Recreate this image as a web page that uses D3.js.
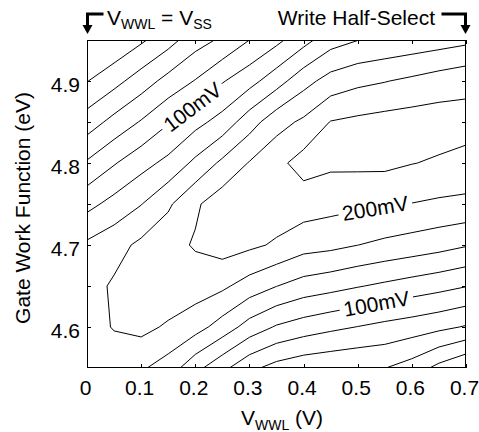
<!DOCTYPE html>
<html>
<head>
<meta charset="utf-8">
<script src="https://cdn.jsdelivr.net/npm/d3@7"></script>
<style>
  body { margin: 0; background: #fff; }
  text { font-family: "Liberation Sans", Arial, sans-serif; fill: #000; }
</style>
</head>
<body>
<svg id="chart"></svg>
<script>
// grid of the contour data
const vwwl = [0, 0.05, 0.1, 0.15, 0.2, 0.25, 0.3, 0.35, 0.4, 0.45, 0.5, 0.55, 0.6, 0.65, 0.7];
const workFunction = [4.95, 4.90, 4.85, 4.80, 4.75, 4.70, 4.65, 4.60, 4.55]; // top row first

// read margin (mV), one row per work function value
const row495 = [-37.5, -21.5, -4, 15.4, 39.6, 54.3, 75, 93.6, 116.4, 139.5, 149.5, 154.7, 159, 163.6, 169];
const row490 = [-0.9, 16.8, 37.3, 58.5, 76.3, 98, 116, 139.5, 166, 185, 194, 198.9, 205, 212, 218];
const row485 = [37, 58, 77, 98, 117, 134.5, 164, 190.5, 204.6, 226, 230.6, 234.2, 236.5, 237, 234];
const row480 = [78, 98, 116, 131.7, 155.6, 180.3, 201.5, 218, 235, 229.8, 230.5, 231, 225.8, 222, 218];
const row475 = [117.3, 133.3, 149.1, 171, 196.2, 214, 214, 214, 212, 208.2, 205, 202, 199.4, 196, 194];
const row470 = [154.5, 166, 180.3, 191.4, 202.4, 210.8, 205, 196.8, 185, 181.5, 175.2, 169.5, 164.5, 159, 152];
const row465 = [165.6, 178.3, 188, 193, 187, 179.8, 164, 150.5, 139.5, 133.5, 126.6, 120.3, 114, 108, 101];
const row460 = [162, 177, 182, 171.5, 160, 139.3, 114.7, 97.5, 88, 80.5, 74.4, 68, 62.5, 56, 48];
const row455 = [155, 156, 153.2, 138.7, 107.7, 81.7, 56, 41, 32.7, 29.3, 26.3, 25.5, 14, -7.5, -25];

const levels = [0, 25, 50, 75, 100, 125, 150, 175, 200, 225];

// inline contour labels
const labelText = ["100mV", "200mV", "100mV"];
const labelLevel = [100, 200, 100];
const labelV = [0.196, 0.532, 0.534];
const labelWF = [4.867, 4.746, 4.63];

const xTicks = [0, 0.1, 0.2, 0.3, 0.4, 0.5, 0.6, 0.7];
const xTickLabels = ["0", "0.1", "0.2", "0.3", "0.4", "0.5", "0.6", "0.7"];
const yTicks = [4.6, 4.65, 4.7, 4.75, 4.8, 4.85, 4.9];
const yTickLabels = ["4.6", "", "4.7", "", "4.8", "", "4.9"];

let width = 479, height = 432;
let margin = { top: 40, right: 13, bottom: 64, left: 87 };

let svg = d3.select('#chart')
    .attr('width', width)
    .attr('height', height);

let x = d3.scaleLinear()
    .domain(d3.extent(vwwl))
    .range([margin.left, width - margin.right]);

let y = d3.scaleLinear()
    .domain(d3.extent(workFunction))
    .range([height - margin.bottom, margin.top]);

// contours
const gridRows = [row495, row490, row485, row480, row475, row470, row465, row460, row455];
const n = vwwl.length, m = workFunction.length;
const contours = d3.contours()
    .size([n, m])
    .thresholds(levels)(gridRows.flat());

const stepV = vwwl[1] - vwwl[0];
const stepW = workFunction[1] - workFunction[0];
// d3.contours puts value i at i + 0.5
const proj = p => [x(vwwl[0] + (p[0] - 0.5) * stepV), y(workFunction[0] + (p[1] - 0.5) * stepW)];

svg.append('clipPath').attr('id', 'plotclip')
    .append('rect')
    .attr('x', x.range()[0]).attr('y', y.range()[1])
    .attr('width', x.range()[1] - x.range()[0])
    .attr('height', y.range()[0] - y.range()[1]);

let contourLayer = svg.append('g').attr('clip-path', 'url(#plotclip)');

contourLayer.selectAll('path')
    .data(contours)
    .enter()
    .append('path')
    .attr('d', c => c.coordinates.map(poly => poly.map(ring =>
        'M' + ring.map(p => proj(p).join(',')).join('L') + 'Z').join('')).join(''))
    .attr('fill', 'none')
    .attr('stroke', '#000')
    .attr('stroke-width', 1);

// put a label on its contour, turned along the line
function placeLabel(level, v, wf) {
    const c = contours.find(d => d.value === level);
    const px = x(v), py = y(wf);
    let best = null;
    const segs = [];
    c.coordinates.forEach(poly => poly.forEach(ring => {
        const pts = ring.map(proj);
        for (let i = 1; i < pts.length; i++) {
            const [x0, y0] = pts[i - 1], [x1, y1] = pts[i];
            const vx = x1 - x0, vy = y1 - y0;
            const len2 = vx * vx + vy * vy;
            if (!len2) continue;
            let t = ((px - x0) * vx + (py - y0) * vy) / len2;
            t = Math.max(0, Math.min(1, t));
            const qx = x0 + t * vx, qy = y0 + t * vy;
            const d2 = (qx - px) ** 2 + (qy - py) ** 2;
            segs.push({ x0, y0, x1, y1, vx, vy });
            if (!best || d2 < best.d2) best = { d2, qx, qy };
        }
    }));
    // mean direction of the line near the label
    let sx = 0, sy = 0;
    segs.forEach(s => {
        const mx = (s.x0 + s.x1) / 2, my = (s.y0 + s.y1) / 2;
        if ((mx - best.qx) ** 2 + (my - best.qy) ** 2 < 35 * 35) {
            const sign = s.vx < 0 ? -1 : 1;
            sx += sign * s.vx; sy += sign * s.vy;
        }
    });
    return { x: best.qx, y: best.qy, angle: Math.atan2(sy, sx) * 180 / Math.PI };
}

labelText.forEach((txt, i) => {
    const p = placeLabel(labelLevel[i], labelV[i], labelWF[i]);
    let g = svg.append('g')
        .attr('transform', `translate(${p.x},${p.y}) rotate(${p.angle})`);
    let rect = g.append('rect').attr('fill', '#fff');
    let t = g.append('text')
        .attr('text-anchor', 'middle')
        .attr('dy', '0.36em')
        .style('font-size', '21px')
        .text(txt);
    const w = t.node().getComputedTextLength() + 8;
    rect.attr('x', -w / 2).attr('y', -8).attr('width', w).attr('height', 16);
});

// axes, ticks pointing in
let xAxis = svg.append('g')
    .attr('transform', `translate(0, ${y.range()[0]})`)
    .call(d3.axisBottom(x).tickValues(xTicks).tickFormat((d, i) => xTickLabels[i])
        .tickSizeInner(-4).tickSizeOuter(0).tickPadding(12));

let xTop = svg.append('g')
    .attr('transform', `translate(0, ${y.range()[1]})`)
    .call(d3.axisTop(x).tickValues(xTicks).tickFormat('').tickSizeInner(-4).tickSizeOuter(0));

let yAxis = svg.append('g')
    .attr('transform', `translate(${x.range()[0]}, 0)`)
    .call(d3.axisLeft(y).tickValues(yTicks).tickFormat((d, i) => yTickLabels[i])
        .tickSizeInner(-4).tickSizeOuter(0).tickPadding(7));

let yRight = svg.append('g')
    .attr('transform', `translate(${x.range()[1]}, 0)`)
    .call(d3.axisRight(y).tickValues(yTicks).tickFormat('').tickSizeInner(-4).tickSizeOuter(0));

[xAxis, xTop, yAxis, yRight].forEach(a => {
    a.select('.domain').remove();
    a.selectAll('line').attr('stroke', '#000').attr('shape-rendering', 'crispEdges');
    a.selectAll('text').style('font-size', '21px').attr('fill', '#000');
});
xAxis.selectAll('text').attr('dy', '0.71em').attr('dx', -2);
yAxis.selectAll('text').attr('dy', '0.52em');

// frame
svg.append('rect')
    .attr('x', x.range()[0] + 0.5).attr('y', y.range()[1] + 0.5)
    .attr('width', x.range()[1] - x.range()[0] - 1)
    .attr('height', y.range()[0] - y.range()[1] - 1)
    .attr('fill', 'none').attr('stroke', '#000');

// axis titles
let x_label = svg.append('text')
    .attr('x', 241)
    .attr('y', 425)
    .style('font-size', '21px');
x_label.append('tspan').text('V');
x_label.append('tspan').attr('dy', 5).style('font-size', '14px').text('WWL');
x_label.append('tspan').attr('dy', -5).text(' (V)');

let y_label = svg.append('text')
    .attr('transform', 'rotate(-90)')
    .attr('x', -208)
    .attr('y', 30)
    .attr('text-anchor', 'middle')
    .style('font-size', '21px')
    .text('Gate Work Function (eV)');

// top notes with bent arrows
let leftNote = svg.append('text').attr('x', 107).attr('y', 25).style('font-size', '21px');
leftNote.append('tspan').text('V');
leftNote.append('tspan').attr('dy', 4).style('font-size', '14px').text('WWL');
leftNote.append('tspan').attr('dy', -4).text(' = V');
leftNote.append('tspan').attr('dy', 4).style('font-size', '14px').text('SS');

svg.append('text')
    .attr('x', 435).attr('y', 25)
    .attr('text-anchor', 'end')
    .style('font-size', '21px')
    .text('Write Half-Select');

const xl = x.range()[0] + 0.5, xr = x.range()[1] - 0.5;
svg.append('path')
    .attr('d', `M${xl + 16},14 H${xl} V27`)
    .attr('fill', 'none').attr('stroke', '#000').attr('stroke-width', 3);
svg.append('path')
    .attr('d', `M${xl - 5},25 L${xl + 5},25 L${xl},34 Z`)
    .attr('fill', '#000');
svg.append('path')
    .attr('d', `M${xr - 24},14 H${xr} V27`)
    .attr('fill', 'none').attr('stroke', '#000').attr('stroke-width', 3);
svg.append('path')
    .attr('d', `M${xr - 5},25 L${xr + 5},25 L${xr},34 Z`)
    .attr('fill', '#000');
</script>
</body>
</html>
